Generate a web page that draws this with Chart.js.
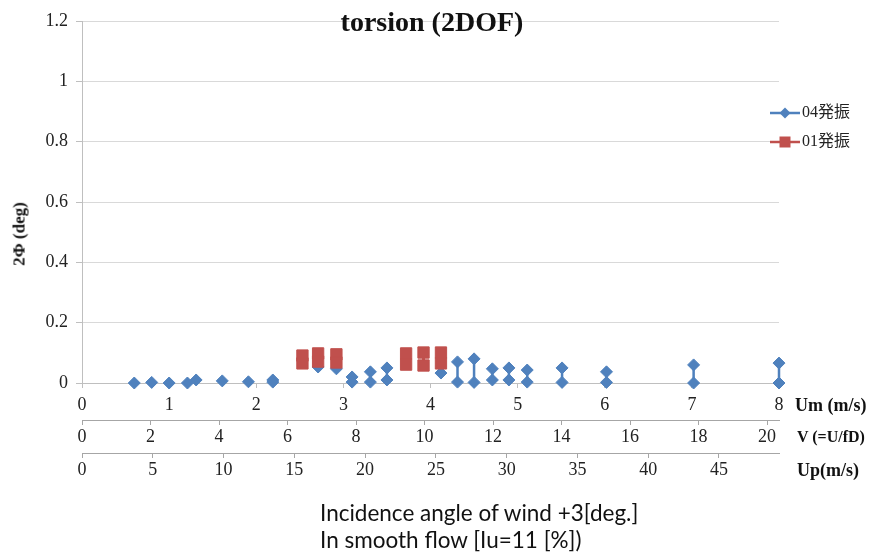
<!DOCTYPE html>
<html><head><meta charset="utf-8">
<script src="https://cdn.jsdelivr.net/npm/chart.js@4.4.0/dist/chart.umd.min.js"></script>
<style>
body{margin:0;background:#fff;}
#wrap{position:relative;width:871px;height:556px;overflow:hidden;background:#fff;}
.t{position:absolute;white-space:nowrap;font-family:"Liberation Serif","Times New Roman",serif;color:#111;line-height:1;}
.cap{position:absolute;left:320px;white-space:nowrap;font-family:Lato,"Liberation Sans",sans-serif;font-size:22.5px;color:#111;line-height:1;}
</style></head><body>
<div id="wrap"><canvas id="c" width="871" height="556"></canvas>
<div class="t" style="left:432px;top:22px;transform:translate(-50%,-50%);font-size:28px;font-weight:bold;">torsion (2DOF)</div>
<div class="t" style="left:19px;top:234px;transform:translate(-50%,-50%) rotate(-90deg);font-size:17px;font-weight:bold;">2Φ (deg)</div>
<div class="t" style="left:795px;top:405px;transform:translateY(-50%);font-size:18px;font-weight:bold;">Um (m/s)</div>
<div class="t" style="left:797px;top:437px;transform:translateY(-50%);font-size:16px;font-weight:bold;">V (=U/fD)</div>
<div class="t" style="left:797px;top:470px;transform:translateY(-50%);font-size:18px;font-weight:bold;">Up(m/s)</div>
<div class="cap" style="top:513px;transform:translateY(-50%);">Incidence angle of wind +3[deg.]</div>
<div class="cap" style="top:540px;transform:translateY(-50%);">In smooth flow [Iu=11 [%])</div>
</div>
<script>
// ---- data ----
const blueUm   = [0.60, 0.80, 1.00, 1.21, 1.31, 1.61, 1.91, 2.19, 2.71, 2.92, 3.10, 3.31, 3.50, 4.12, 4.31, 4.50, 4.71, 4.90, 5.11, 5.51, 6.02, 7.02, 8.00];
const blueHigh = [0, 0.002, 0, 0, 0.010, 0.007, 0.004, 0.010, 0.053, 0.047, 0.020, 0.037, 0.050, 0.033, 0.070, 0.080, 0.047, 0.050, 0.043, 0.050, 0.037, 0.060, 0.066];
const blueLow  = [null, null, null, null, null, null, null, 0.003, null, null, 0.003, 0.003, 0.010, null, 0.003, 0.002, 0.010, 0.010, 0.003, 0.002, 0.002, 0, 0];
const redUm    = [2.53, 2.71, 2.92, 3.72, 3.92, 4.12];
const redHigh  = [0.091, 0.098, 0.095, 0.098, 0.101, 0.101];
const redLow   = [0.065, 0.071, 0.068, 0.061, 0.058, 0.065];
const seriesNames = ['04発振', '01発振'];
const umTicks = [0, 1, 2, 3, 4, 5, 6, 7, 8];
const vTicks  = [0, 2, 4, 6, 8, 10, 12, 14, 16, 18, 20];
const upTicks = [0, 5, 10, 15, 20, 25, 30, 35, 40, 45];
const yTicks  = [0, 0.2, 0.4, 0.6, 0.8, 1, 1.2];
const umMax = 8, vMax = 20.35, upMax = 49.24, yMax = 1.2;

const BLUE = '#4F81BD', RED = '#C0504D';
const SERIF = '"Liberation Serif", "Times New Roman", serif';

function pairs(xs, hi, lo) {
  const d = [];
  xs.forEach((x, i) => {
    d.push({x: x, y: hi[i]});
    if (lo[i] !== null) d.push({x: x, y: lo[i]});
    d.push({x: x, y: null});
  });
  return d;
}
function fixedTicks(arr) { return s => { s.ticks = arr.map(v => ({value: v})); }; }
const plainLabel = v => String(+Number(v).toFixed(2));

const tickFont = {family: SERIF, size: 18};

const legendPlugin = {
  id: 'customLegend',
  afterDraw(chart) {
    const ctx = chart.ctx;
    const items = [
      {name: seriesNames[0], color: BLUE, style: 'diamond', y: 113},
      {name: seriesNames[1], color: RED, style: 'rect', y: 142}
    ];
    ctx.save();
    items.forEach(it => {
      ctx.strokeStyle = it.color; ctx.lineWidth = 2.5;
      ctx.beginPath(); ctx.moveTo(770, it.y); ctx.lineTo(800, it.y); ctx.stroke();
      ctx.fillStyle = it.color;
      ctx.beginPath();
      const cx = 785;
      if (it.style === 'diamond') {
        ctx.moveTo(cx - 5.5, it.y); ctx.lineTo(cx, it.y - 5.5); ctx.lineTo(cx + 5.5, it.y); ctx.lineTo(cx, it.y + 5.5);
      } else {
        ctx.rect(cx - 5.5, it.y - 5.5, 11, 11);
      }
      ctx.closePath(); ctx.fill();
      ctx.fillStyle = '#222';
      ctx.font = '16px "Liberation Serif", "Noto Sans CJK JP", serif';
      ctx.textBaseline = 'middle'; ctx.textAlign = 'left';
      ctx.fillText(it.name, 802, it.y);
    });
    ctx.restore();
  }
};

new Chart(document.getElementById('c'), {
  type: 'scatter',
  data: {
    datasets: [
      {label: seriesNames[1], data: pairs(redUm, redHigh, redLow), showLine: true, spanGaps: false,
       borderColor: RED, backgroundColor: RED, pointBackgroundColor: RED, pointBorderColor: RED,
       pointStyle: 'rect', pointRadius: 8, pointBorderWidth: 1, borderWidth: 3, clip: false, order: 1,
       xAxisID: 'x', yAxisID: 'y'},
      {label: seriesNames[0], data: pairs(blueUm, blueHigh, blueLow), showLine: true, spanGaps: false,
       borderColor: BLUE, backgroundColor: BLUE, pointBackgroundColor: BLUE, pointBorderColor: BLUE,
       pointStyle: 'rectRot', pointRadius: 6, pointBorderWidth: 1, borderWidth: 2.5, clip: false, order: 2,
       xAxisID: 'x', yAxisID: 'y'}
    ]
  },
  options: {
    responsive: false, animation: false, devicePixelRatio: 1,
    layout: {padding: {left: 0, right: 92, top: 21, bottom: 68}},
    plugins: {legend: {display: false}, tooltip: {enabled: false}, title: {display: false}},
    scales: {
      x: {type: 'linear', position: 'bottom', weight: 0, min: 0, max: umMax,
          afterBuildTicks: fixedTicks(umTicks), afterFit: s => { s.height = 37; },
          grid: {drawOnChartArea: false, drawTicks: true, tickLength: 5, color: '#BFBFBF'},
          border: {display: true, color: '#BFBFBF', width: 1},
          ticks: {font: tickFont, color: '#222', padding: 6, maxRotation: 0, autoSkip: false, callback: plainLabel}},
      xV: {type: 'linear', position: 'bottom', weight: 1, min: 0, max: vMax,
          afterBuildTicks: fixedTicks(vTicks), afterFit: s => { s.height = 33; },
          grid: {drawOnChartArea: false, drawTicks: true, tickLength: 5, color: '#A6A6A6'},
          border: {display: true, color: '#A6A6A6', width: 1},
          ticks: {font: tickFont, color: '#222', padding: 1, maxRotation: 0, autoSkip: false, callback: plainLabel}},
      xUp: {type: 'linear', position: 'bottom', weight: 2, min: 0, max: upMax,
          afterBuildTicks: fixedTicks(upTicks), afterFit: s => { s.height = 35; },
          grid: {drawOnChartArea: false, drawTicks: true, tickLength: 5, color: '#A6A6A6'},
          border: {display: true, color: '#A6A6A6', width: 1},
          ticks: {font: tickFont, color: '#222', padding: 1, maxRotation: 0, autoSkip: false, callback: plainLabel}},
      y: {type: 'linear', position: 'left', min: 0, max: yMax,
          afterBuildTicks: fixedTicks(yTicks), afterFit: s => { s.width = 82; },
          grid: {color: '#D9D9D9', drawTicks: true, tickLength: 6, tickColor: '#BFBFBF'},
          border: {display: true, color: '#BFBFBF', width: 1},
          ticks: {font: tickFont, color: '#222', padding: 8, callback: plainLabel}}
    }
  },
  plugins: [legendPlugin]
});
</script>
</body></html>
